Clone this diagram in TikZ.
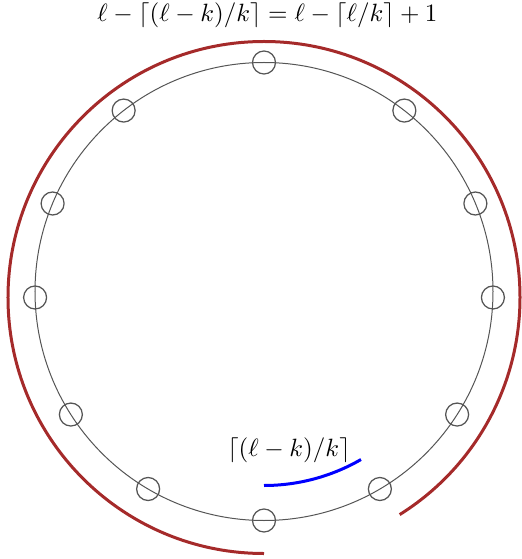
\documentclass[tikz,border=0pt]{standalone}
\usepackage{amsmath,amssymb,tikz}
\usetikzlibrary{positioning,calc}
\definecolor{Ring}{HTML}{555555}
\definecolor{Brick}{HTML}{A52A2A}
\definecolor{Arc}{HTML}{0000FF}
\tikzset{ring/.style={draw=Ring,line width=.4pt},pt/.style={circle,draw=Ring,line width=.5pt,minimum size=9.2pt,inner sep=0pt},outer/.style={draw=Brick,line width=1.2pt},part/.style={draw=Arc,line width=1.2pt},lab/.style={font=\fontsize{9.6pt}{11pt}\selectfont,text=black,align=center}}

\begin{document}
\begin{tikzpicture}[x=0.4pt,y=0.4pt]
\useasboundingbox (-264,-267.5) rectangle (257,291.5);
\draw[ring] (0,0) circle (229);
\node[pt] (p1) at (90:229) {};
\node[pt] (p2) at (52.2:229) {};
\node[pt] (p3) at (22.6:229) {};
\node[pt] (p4) at (-1.5:229) {};
\node[pt] (p5) at (-32.5:229) {};
\node[pt] (p6) at (-59.6:229) {};
\node[pt] (p7) at (-90:229) {};
\node[pt] (p8) at (239.6:229) {};
\node[pt] (p9) at (212.5:229) {};
\node[pt] (p10) at (181.5:229) {};
\node[pt] (p11) at (157.4:229) {};
\node[pt] (p12) at (127.8:229) {};
\draw[outer] (0,-262) arc[start angle=270,end angle=-58,radius=256];
\draw[part] (0,-194) arc[start angle=270,end angle=300,radius=194];
\node[lab] (total) at (3.5,276.5) {$\ell-\lceil(\ell-k)/k\rceil=\ell-\lceil\ell/k\rceil+1$};
\node[lab] (step) at (25,-158.5) {$\lceil(\ell-k)/k\rceil$};
\end{tikzpicture}
\end{document}
